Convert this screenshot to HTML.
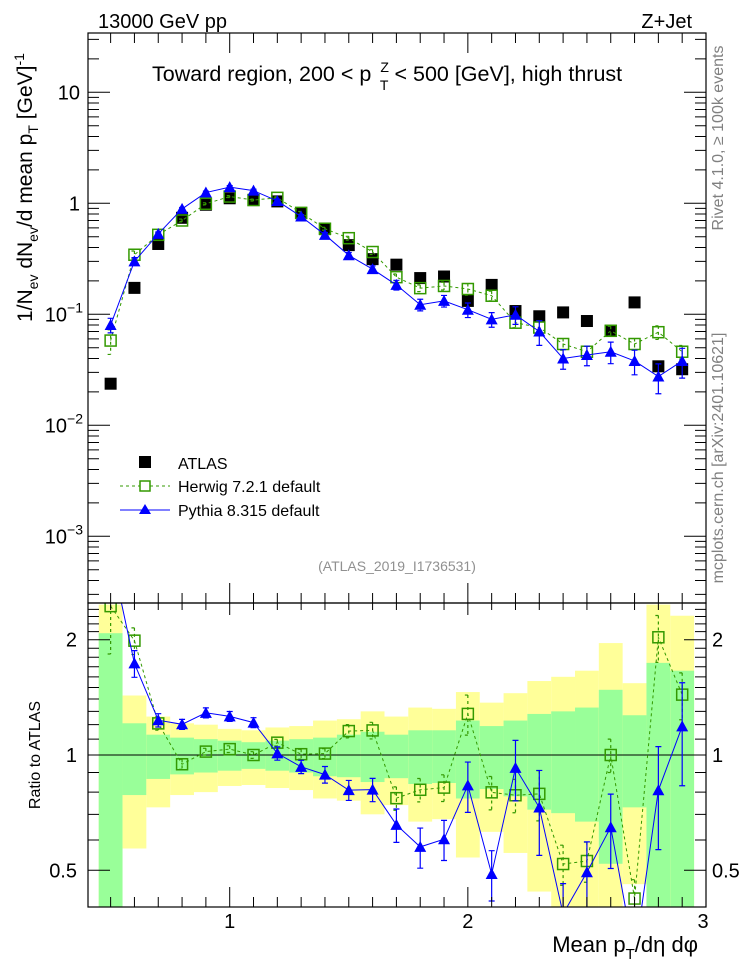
<!DOCTYPE html>
<html><head><meta charset="utf-8">
<style>
html,body{margin:0;padding:0;background:#fff;}
svg{display:block;font-family:"Liberation Sans",Arial,sans-serif;}
</style></head>
<body>
<svg id="chart" xmlns="http://www.w3.org/2000/svg" width="746" height="972" viewBox="0 0 746 972">
<defs>
<clipPath id="clipMain"><rect x="88" y="33" width="618" height="570"/></clipPath>
<clipPath id="clipRatio"><rect x="88" y="603" width="618" height="304"/></clipPath>
</defs>
<rect x="0" y="0" width="746" height="972" fill="#fff"/>
<g id="bands" clip-path="url(#clipRatio)"></g>
<g id="marksMain" clip-path="url(#clipMain)"></g>
<g id="marksRatio" clip-path="url(#clipRatio)"></g>
<g id="axes"></g>

<text x="98" y="28" font-size="20">13000 GeV pp</text>
<text x="692" y="28" font-size="20" text-anchor="end">Z+Jet</text>
<text x="152" y="81" font-size="21.5">Toward region, 200 &lt; p<tspan font-size="14" dx="9" dy="-9">Z</tspan><tspan font-size="14" dx="-9" dy="18">T</tspan><tspan dx="6" dy="-9">&lt; 500 [GeV], high thrust</tspan></text>

<text transform="translate(32,322) rotate(-90)" font-size="21">1/N<tspan font-size="14" dy="6">ev</tspan><tspan dy="-6"> dN</tspan><tspan font-size="14" dy="6">ev</tspan><tspan dy="-6">/d mean p</tspan><tspan font-size="14" dy="6">T</tspan><tspan dy="-6"> [GeV]</tspan><tspan font-size="14" dy="-8">-1</tspan></text>
<text transform="translate(40,755) rotate(-90)" font-size="16" text-anchor="middle">Ratio to ATLAS</text>
<text x="698" y="952" font-size="22" text-anchor="end">Mean p<tspan font-size="15" dy="7">T</tspan><tspan dy="-7">/dη dφ</tspan></text>

<text transform="translate(723,138) rotate(-90)" font-size="16" fill="#808080" text-anchor="middle">Rivet 4.1.0, ≥ 100k events</text>
<text transform="translate(723,458) rotate(-90)" font-size="16" fill="#808080" text-anchor="middle">mcplots.cern.ch [arXiv:2401.10621]</text>
<text x="397" y="571" font-size="14" fill="#909090" text-anchor="middle">(ATLAS_2019_I1736531)</text>

<g>
  <g>
    <rect x="139" y="456" width="12" height="12" fill="#000"/>
    <text x="178" y="469" font-size="16">ATLAS</text>
  </g>
  <g>
    <line x1="120" y1="486" x2="170" y2="486" stroke="#339900" stroke-width="1" stroke-dasharray="3,3"/>
    <rect x="140" y="481" width="10" height="10" fill="#fff" stroke="#339900" stroke-width="1.5"/>
    <text x="178" y="492" font-size="16">Herwig 7.2.1 default</text>
  </g>
  <g>
    <line x1="120" y1="510" x2="170" y2="510" stroke="#0000ff" stroke-width="1"/>
    <polygon points="145,504 151,514 139,514" fill="#0000ff"/>
    <text x="178" y="516" font-size="16">Pythia 8.315 default</text>
  </g>
</g>
</svg>
<script>
const xVals = [0.5,0.6,0.7,0.8,0.9,1.0,1.1,1.2,1.3,1.4,1.5,1.6,1.7,1.8,1.9,2.0,2.1,2.2,2.3,2.4,2.5,2.6,2.7,2.8,2.9];
const atlasVals = [0.0237,0.173,0.43,0.74,0.97,1.11,1.07,1.04,0.816,0.585,0.42,0.314,0.28,0.212,0.219,0.132,0.184,0.107,0.096,0.104,0.087,0.071,0.128,0.034,0.032];
const herwigVals = [0.058,0.344,0.52,0.70,0.99,1.15,1.07,1.12,0.82,0.59,0.485,0.364,0.216,0.172,0.18,0.169,0.147,0.084,0.076,0.054,0.046,0.071,0.054,0.069,0.046];
const herwigRelErr = [0.25,0.08,0.04,0.03,0.02,0.02,0.02,0.02,0.03,0.03,0.04,0.05,0.07,0.07,0.08,0.12,0.1,0.1,0.15,0.12,0.12,0.1,0.12,0.14,0.14];
const pythiaVals = [0.08,0.30,0.53,0.89,1.25,1.40,1.30,1.05,0.76,0.52,0.34,0.255,0.184,0.122,0.132,0.110,0.090,0.099,0.070,0.040,0.043,0.046,0.038,0.0275,0.038];
const pythiaRelErr = [0.15,0.08,0.04,0.03,0.03,0.03,0.03,0.04,0.04,0.05,0.06,0.07,0.1,0.12,0.12,0.15,0.15,0.18,0.25,0.2,0.2,0.22,0.25,0.3,0.3];
const bandTotUp = [2.47,1.43,1.26,1.21,1.20,1.17,1.16,1.18,1.19,1.23,1.24,1.30,1.26,1.33,1.32,1.46,1.37,1.45,1.56,1.60,1.66,1.96,1.54,2.47,2.31];
const bandStatUp = [2.08,1.21,1.13,1.11,1.10,1.09,1.08,1.09,1.10,1.11,1.13,1.15,1.13,1.16,1.16,1.23,1.19,1.23,1.28,1.30,1.33,1.48,1.27,1.74,1.66];
const bandStatDn = [0.3,0.786,0.866,0.89,0.90,0.91,0.92,0.91,0.90,0.88,0.875,0.85,0.87,0.84,0.845,0.77,0.815,0.78,0.72,0.705,0.67,0.52,0.73,0.3,0.3];
const bandTotDn = [0.3,0.57,0.73,0.786,0.80,0.83,0.835,0.82,0.81,0.77,0.76,0.70,0.74,0.67,0.68,0.54,0.63,0.555,0.44,0.3,0.3,0.3,0.46,0.3,0.3];
const mainTickVals = [10,1,0.1,0.01,0.001];
const mainTickBase = ["10","1","10","10","10"];
const mainTickExp = ["","","−1","−2","−3"];
const ratioTickVals = [2,1,0.5];
const ratioTickLabels = ["2","1","0.5"];
const xTickVals = [1,2,3];
const xTickLabels = ["1","2","3"];

const NS = "http://www.w3.org/2000/svg";
const X0 = 88, X1 = 706, XMIN = 0.405, XMAX = 3.0;
const MT = 33, MB = 603, RT = 603, RB = 907;
function px(x){ return X0 + (x - XMIN) * (X1 - X0) / (XMAX - XMIN); }
function py(v){ return 203.3 - 111 * Math.log10(v); }
function ry(r){ return 755 - 383 * Math.log10(r); }
function mk(tag, attrs, parent){
  const e = document.createElementNS(NS, tag);
  for (const k in attrs) e.setAttribute(k, attrs[k]);
  parent.appendChild(e);
  return e;
}
const gAxes = document.getElementById('axes');
const gMain = document.getElementById('marksMain');
const gRatio = document.getElementById('marksRatio');
const gBands = document.getElementById('bands');
const GREEN = "#339900", BLUE = "#0000ff";

xVals.forEach((x, i) => {
  const a = px(x - 0.05), b = px(x + 0.05);
  const y1 = mk('rect', {x:a, y:ry(bandTotUp[i]), width:b-a, height:ry(bandTotDn[i]) - ry(bandTotUp[i]), fill:"#ffff99"}, gBands);
  
  
  const g1 = mk('rect', {x:a, y:ry(bandStatUp[i]), width:b-a, height:ry(bandStatDn[i]) - ry(bandStatUp[i]), fill:"#99ff99"}, gBands);
  
  
});
const refLine = mk('line', {x1:X0, x2:X1, y1:ry(1), y2:ry(1), stroke:"#000", "stroke-width":1}, gBands);



function drawSeries(g, vals, relErr, yf, color, dashed, shape, name){
  const pts = xVals.map((x, i) => px(x) + "," + yf(vals[i])).join(" ");
  const line = mk('polyline', {points:pts, fill:"none", stroke:color, "stroke-width":1, "stroke-dasharray": dashed ? "3,3" : "none"}, g);
  
  
  xVals.forEach((x, i) => {
    const cx = px(x), v = vals[i];
    const yt = yf(v * (1 + relErr[i])), yb = yf(v * (1 - relErr[i]));
    const eb = mk('path', {d:`M${cx},${yt}V${yb}M${cx-3},${yt}H${cx+3}M${cx-3},${yb}H${cx+3}`, stroke:color, "stroke-width":1.2, fill:"none", "stroke-dasharray": dashed ? "3,3" : "none"}, g);
    
    
    const cy = yf(v);
    let m;
    if (shape === 'square') {
      m = mk('rect', {x:cx-5.5, y:cy-5.5, width:11, height:11, fill:"#fff", "fill-opacity":0, stroke:color, "stroke-width":1.5}, g);
    } else {
      m = mk('polygon', {points:`${cx},${cy-6} ${cx+6},${cy+5} ${cx-6},${cy+5}`, fill:color}, g);
    }
    
    
  });
}
xVals.forEach((x, i) => {
  const r = mk('rect', {x:px(x)-6, y:py(atlasVals[i])-6, width:12, height:12, fill:"#000"}, gMain);
  
  
});
drawSeries(gMain, herwigVals, herwigRelErr, py, GREEN, true, 'square', 'herwig');
drawSeries(gMain, pythiaVals, pythiaRelErr, py, BLUE, false, 'triangle', 'pythia');
const herwigRatio = herwigVals.map((v, i) => v / atlasVals[i]);
const pythiaRatio = pythiaVals.map((v, i) => v / atlasVals[i]);
drawSeries(gRatio, herwigRatio, herwigRelErr, ry, GREEN, true, 'square', 'herwig-ratio');
drawSeries(gRatio, pythiaRatio, pythiaRelErr, ry, BLUE, false, 'triangle', 'pythia-ratio');

const f1 = mk('rect', {x:X0, y:MT, width:X1-X0, height:MB-MT, fill:"none", stroke:"#000", "stroke-width":1.2}, gAxes);


const f2 = mk('rect', {x:X0, y:RT, width:X1-X0, height:RB-RT, fill:"none", stroke:"#000", "stroke-width":1.2}, gAxes);



let tickPath = "";
for (let k = 5; k <= 30; k++) {
  const x = px(k / 10);
  const major = (k % 10 === 0);
  const L = major ? 20 : 10;
  tickPath += `M${x},${MT}v${L}M${x},${MB}v${-L}M${x},${RT}v${major?12:7}M${x},${RB}v${-L}`;
}
for (let d = -4; d <= 1; d++) {
  for (let m = 1; m <= 9; m++) {
    const v = m * Math.pow(10, d);
    const y = py(v);
    if (y < MT || y > MB) continue;
    const L = m === 1 ? 22 : 11;
    tickPath += `M${X0},${y}h${L}M${X1},${y}h${-L}`;
  }
}
for (let k = 4; k <= 25; k++) {
  const r = k / 10;
  const y = ry(r);
  if (y < RT || y > RB) continue;
  const L = (k === 5 || k === 10 || k === 20) ? 22 : 11;
  tickPath += `M${X0},${y}h${L}M${X1},${y}h${-L}`;
}
const tp = mk('path', {d:tickPath, stroke:"#000", "stroke-width":1, fill:"none"}, gAxes);



mainTickVals.forEach((v, i) => {
  const t = mk('text', {x: mainTickExp[i] ? 83 : 80, y: py(v) + 7, "font-size":20, "text-anchor":"end"}, gAxes);
  if (mainTickExp[i]) {
    const b = mk('tspan', {}, t); b.textContent = mainTickBase[i];
    const e = mk('tspan', {"font-size":14, dy:-9}, t); e.textContent = mainTickExp[i];
  } else {
    t.textContent = mainTickBase[i];
  }
  
  
});
ratioTickVals.forEach((v, i) => {
  const t = mk('text', {x:77, y:ry(v)+7, "font-size":20, "text-anchor":"end"}, gAxes);
  t.textContent = ratioTickLabels[i];
  
  
  const t2 = mk('text', {x:712, y:ry(v)+7, "font-size":20}, gAxes);
  t2.textContent = ratioTickLabels[i];
  
  
});
xTickVals.forEach((v, i) => {
  const t = mk('text', {x:px(v), y:928, "font-size":20, "text-anchor":"middle"}, gAxes);
  if (v === 3) t.setAttribute('x', px(v) - 3);
  t.textContent = xTickLabels[i];
  
  
});
</script>
</body></html>
